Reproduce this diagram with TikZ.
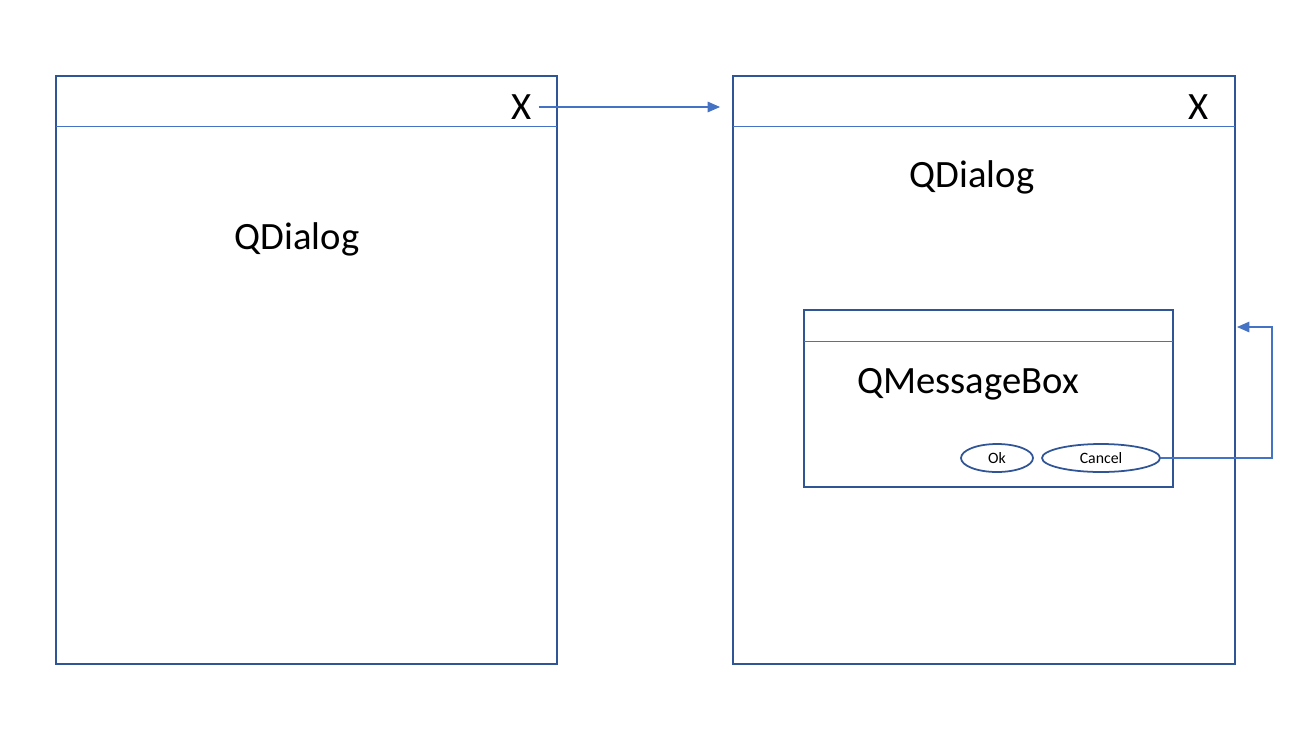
\documentclass[tikz,border=0pt]{standalone}
\usepackage{fontspec}
\setmainfont{Carlito}
\usetikzlibrary{shapes.geometric,arrows.meta}
\definecolor{frameblue}{HTML}{2F5597}
\definecolor{lineblue}{HTML}{4472C4}
\begin{document}
\begin{tikzpicture}[x=0.02cm, y=-0.02cm, thick,
    win/.style = {draw=frameblue, line width=1.2pt},
    bar/.style = {draw=lineblue, line width=0.5pt},
    big/.style = {font=\fontsize{22}{26}\selectfont},
    btn/.style = {draw=frameblue, line width=1pt, ellipse, inner sep=0pt, font=\fontsize{9}{11}\selectfont},
    conn/.style = {draw=lineblue, line width=0.6pt, -{Triangle[length=7pt,width=6pt]}}]
        \useasboundingbox (0,0) rectangle (1310,747);
        % left dialog
        \draw[win] (56,76) rectangle (557,664);
        \draw[bar] (56,126) -- (557,126);
        \node[big] (x1) at (522,107) {X};
        \node[big] (d1) at (297,239) {QDialog};
        % right dialog
        \draw[win] (733,76) rectangle (1235,664);
        \draw[bar] (733,126) -- (1235,126);
        \node[big] (x2) at (1199,107) {X};
        \node[big] (d2) at (972,177) {QDialog};
        % message box
        \draw[win] (804,310) rectangle (1173,487);
        \draw[bar] (804,341) -- (1173,341);
        \node[big] (mb) at (968,384) {QMessageBox};
        \node[btn, minimum width=72*0.02cm, minimum height=28*0.02cm] (ok) at (997,458) {Ok};
        \node[btn, minimum width=118*0.02cm, minimum height=28*0.02cm] (cancel) at (1101,458) {Cancel};
        \coordinate (t2) at (720,107);
        \coordinate (back) at (1237,327);
        \draw[conn] (x1.east) -- (t2);
        \draw[conn] (cancel.east) -- (1272,458) |- (back);
\end{tikzpicture}
\end{document}
